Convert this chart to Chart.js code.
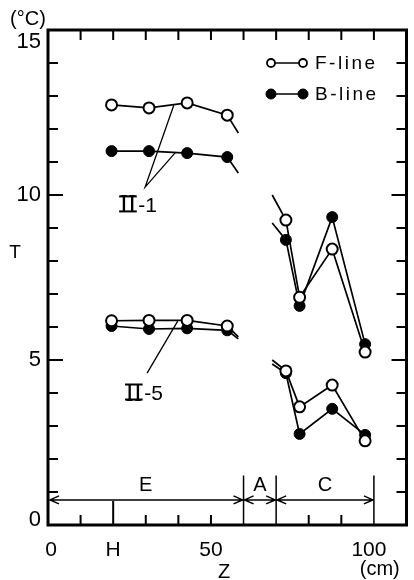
<!DOCTYPE html>
<html>
<head>
<meta charset="utf-8">
<script src="https://cdn.jsdelivr.net/npm/chart.js@4"></script>
<style>
  html, body { margin: 0; padding: 0; background: #fff; }
  #wrap { width: 414px; height: 580px; }
</style>
</head>
<body>
<div id="wrap"><canvas id="chart" width="414" height="580"></canvas></div>
<script>
// position Z (cm); E region points + stub, C region stub + points
const zE = [19.5, 31, 42.7, 55, 58.4];
const zC = [68.8, 73, 77.2, 87.2, 97.3];

// temperature T (°C)
const fE1 = [12.73, 12.64, 12.79, 12.42, 11.88];
const bE1 = [11.33, 11.33, 11.27, 11.15, 10.67];
const fE5 = [6.19, 6.2, 6.2, 6.03, 5.7];
const bE5 = [6.03, 5.94, 5.96, 5.9, 5.64];

const fC1 = [10.0, 9.24, 6.9, 8.36, 5.24];
const bC1 = [9.15, 8.64, 6.64, 9.33, 5.48];
const fC5 = [5.0, 4.67, 3.58, 4.24, 2.55];
const bC5 = [4.88, 4.6, 2.76, 3.52, 2.73];

// point shown (1) or just a line stub (0)
const showE = [1, 1, 1, 1, 0];
const showC = [0, 1, 1, 1, 1];

// zones along Z
const zoneNames = ['E', 'A', 'C'];
const zoneEdges = [0, 60, 70, 100];

const yTickLabels = ['0', '5', '10', '15'];
const xTickValues = [0, 20, 50, 100];
const xTickLabels = ['0', 'H', '50', '100'];

const FONT = "'Liberation Sans', Arial, sans-serif";

function pts(zs, ts) {
  return zs.map((z, i) => ({ x: z, y: ts[i] }));
}

function series(label, zs, ts, show, open) {
  return {
    label: label,
    data: pts(zs, ts),
    showLine: true,
    borderColor: '#000',
    borderWidth: 1.7,
    pointRadius: show.map(s => s ? 5.5 : 0),
    pointBorderWidth: open ? 2 : 1,
    pointBackgroundColor: open ? '#fff' : '#000',
    pointBorderColor: '#000',
    tension: 0
  };
}

function arrowHead(ctx, px, py, dir) {
  ctx.moveTo(px - dir * 9, py - 4);
  ctx.lineTo(px, py);
  ctx.lineTo(px - dir * 9, py + 4);
}

const decor = {
  id: 'decor',
  afterDatasetsDraw(chart) {
    const { ctx, chartArea: a, scales: { x, y } } = chart;
    ctx.save();
    ctx.strokeStyle = '#000';
    ctx.fillStyle = '#000';
    ctx.lineCap = 'butt';

    // ticks
    ctx.lineWidth = 2;
    ctx.beginPath();
    for (let v = 1; v < 15; v++) {
      const py = y.getPixelForValue(v);
      const len = v % 5 === 0 ? 15 : 10;
      ctx.moveTo(a.left, py); ctx.lineTo(a.left + len, py);
      ctx.moveTo(a.right, py); ctx.lineTo(a.right - len, py);
    }
    for (let v = 10; v <= 100; v += 10) {
      const px = x.getPixelForValue(v);
      ctx.moveTo(px, a.top); ctx.lineTo(px, a.top + 10);
      if (zoneEdges.indexOf(v) >= 0) continue;
      ctx.moveTo(px, a.bottom);
      ctx.lineTo(px, a.bottom - (v === 20 ? 24 : 10));
    }
    ctx.stroke();

    // zone bars
    ctx.lineWidth = 1.5;
    ctx.beginPath();
    const yArrow = y.getPixelForValue(0.76);
    const yTop = y.getPixelForValue(1.5);
    zoneEdges.forEach((v, i) => {
      if (i === 0) return;
      const px = x.getPixelForValue(v);
      ctx.moveTo(px, a.bottom); ctx.lineTo(px, yTop);
    });
    for (let i = 0; i < zoneNames.length; i++) {
      const x0 = x.getPixelForValue(zoneEdges[i]) + (i === 0 ? 2 : 1);
      const x1 = x.getPixelForValue(zoneEdges[i + 1]) - 1;
      ctx.moveTo(x0, yArrow); ctx.lineTo(x1, yArrow);
      arrowHead(ctx, x0, yArrow, -1);
      arrowHead(ctx, x1, yArrow, 1);
    }
    ctx.stroke();

    // frame
    ctx.lineWidth = 3;
    ctx.strokeRect(a.left, a.top, a.right - a.left, a.bottom - a.top);

    // leader lines
    ctx.lineWidth = 1.3;
    ctx.beginPath();
    ctx.moveTo(x.getPixelForValue(38.6), y.getPixelForValue(12.72));
    ctx.lineTo(x.getPixelForValue(29.8), y.getPixelForValue(10.24));
    ctx.lineTo(x.getPixelForValue(39.2), y.getPixelForValue(11.3));
    ctx.moveTo(x.getPixelForValue(30.4), y.getPixelForValue(4.6));
    ctx.lineTo(x.getPixelForValue(39.8), y.getPixelForValue(6.18));
    ctx.stroke();

    // zone letters
    ctx.font = '20px ' + FONT;
    ctx.textAlign = 'center';
    ctx.textBaseline = 'middle';
    for (let i = 0; i < zoneNames.length; i++) {
      const mid = (zoneEdges[i] + zoneEdges[i + 1]) / 2;
      ctx.fillText(zoneNames[i], x.getPixelForValue(mid), y.getPixelForValue(1.2));
    }

    // axis labels
    ctx.font = '22px ' + FONT;
    ctx.textAlign = 'right';
    yTickLabels.forEach(t => {
      const v = +t;
      let py = y.getPixelForValue(v);
      if (v === 15) py += 12;
      if (v === 0) py -= 5;
      ctx.fillText(t, a.left - 7, py);
    });
    ctx.textAlign = 'center';
    ctx.font = '21px ' + FONT;
    xTickValues.forEach((v, i) => {
      let px = x.getPixelForValue(v);
      if (v === 0) px += 3;
      if (v === 100) px -= 5;
      ctx.fillText(xTickLabels[i], px, a.bottom + 25);
    });
    ctx.font = '20px ' + FONT;
    ctx.fillText('Z', x.getPixelForValue(54), a.bottom + 47);
    ctx.fillText('(cm)', x.getPixelForValue(101.8), a.bottom + 44);
    ctx.fillText('(°C)', 28, 19);
    ctx.font = '19px ' + FONT;
    ctx.fillText('T', 15, 253);

    // curve labels: roman numeral II with joined bars
    function romanLabel(txt, cx, cy) {
      ctx.font = '25px "Liberation Serif", serif';
      const w1 = ctx.measureText('II').width;
      ctx.font = '21px ' + FONT;
      const w2 = ctx.measureText(txt).width;
      const x0 = cx - (w1 + w2) / 2;
      ctx.textAlign = 'left';
      ctx.textBaseline = 'alphabetic';
      ctx.font = '25px "Liberation Serif", serif';
      ctx.fillText('II', x0, cy + 8.5);
      ctx.fillRect(x0 - 0.5, cy - 8.5, w1 + 1, 2);
      ctx.fillRect(x0 - 0.5, cy + 6.5, w1 + 1, 2);
      ctx.font = '21px ' + FONT;
      ctx.fillText(txt, x0 + w1 + 2, cy + 8);
      ctx.textBaseline = 'middle';
    }
    romanLabel('-1', x.getPixelForValue(27.4), y.getPixelForValue(9.73));
    romanLabel('-5', x.getPixelForValue(29.2), y.getPixelForValue(4.03));

    // legend
    const legend = [['F-line', true, 63], ['B-line', false, 94]];
    legend.forEach(([name, open, ly]) => {
      ctx.lineWidth = 1.5;
      ctx.beginPath();
      ctx.moveTo(271, ly); ctx.lineTo(303, ly);
      ctx.stroke();
      [271, 303].forEach(cx => {
        ctx.beginPath();
        ctx.arc(cx, ly, open ? 4 : 5, 0, Math.PI * 2);
        ctx.fillStyle = open ? '#fff' : '#000';
        ctx.fill();
        ctx.lineWidth = open ? 1.8 : 1;
        ctx.stroke();
      });
      ctx.fillStyle = '#000';
      ctx.font = '19px ' + FONT;
      ctx.textAlign = 'left';
      ctx.letterSpacing = '2.5px';
      ctx.fillText(name, 315, ly + 1);
      ctx.letterSpacing = '0px';
    });

    ctx.restore();
  }
};

new Chart(document.getElementById('chart'), {
  type: 'scatter',
  data: {
    datasets: [
      series('F-line II-1 E', zE, fE1, showE, true),
      series('F-line II-5 E', zE, fE5, showE, true),
      series('F-line II-1 C', zC, fC1, showC, true),
      series('F-line II-5 C', zC, fC5, showC, true),
      series('B-line II-1 E', zE, bE1, showE, false),
      series('B-line II-5 E', zE, bE5, showE, false),
      series('B-line II-1 C', zC, bC1, showC, false),
      series('B-line II-5 C', zC, bC5, showC, false)
    ]
  },
  options: {
    responsive: false,
    animation: false,
    layout: { padding: { left: 48, right: 4, top: 30, bottom: 55 } },
    plugins: { legend: { display: false }, tooltip: { enabled: false } },
    scales: {
      x: { type: 'linear', min: 0, max: 110, display: false },
      y: { type: 'linear', min: 0, max: 15, display: false }
    }
  },
  plugins: [decor]
});
</script>
</body>
</html>
